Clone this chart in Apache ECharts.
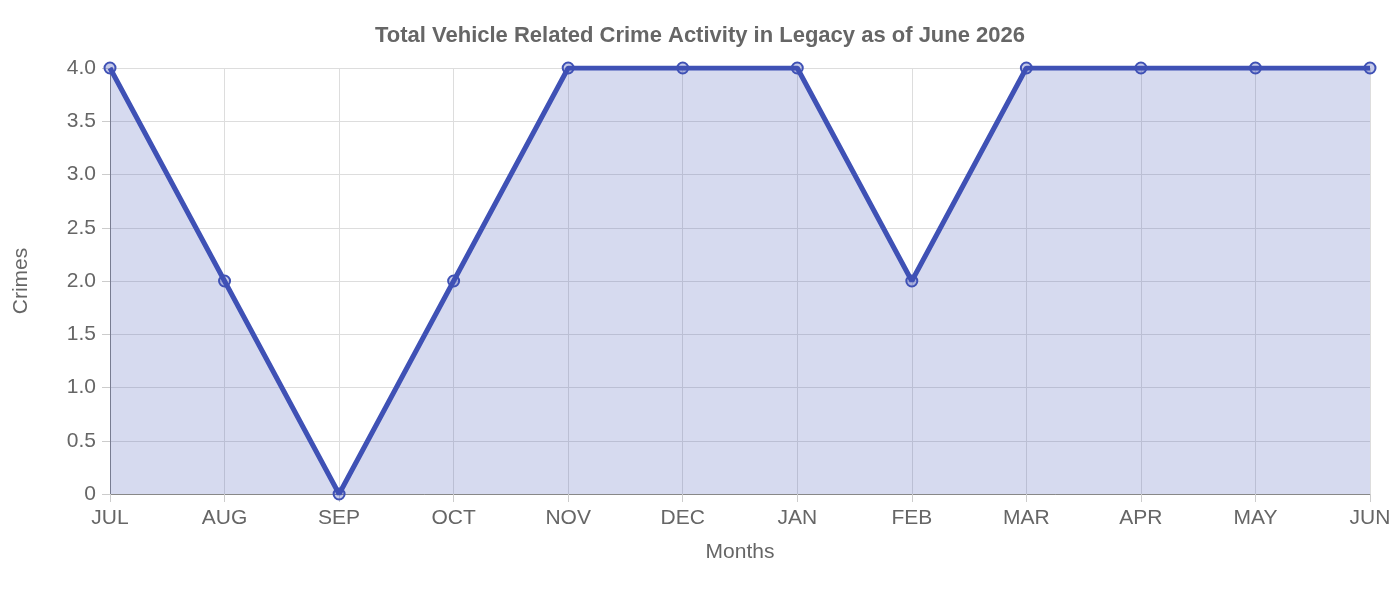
<!DOCTYPE html>
<html><head><meta charset="utf-8">
<script src="https://cdn.jsdelivr.net/npm/echarts@6/dist/echarts.min.js"></script>
<style>html,body{margin:0;padding:0;background:#fff}#c{width:1400px;height:600px}</style>
</head><body><div id="c"></div>
<script>
const months = ["JUL","AUG","SEP","OCT","NOV","DEC","JAN","FEB","MAR","APR","MAY","JUN"];
const crimes = [4,2,0,2,4,4,4,2,4,4,4,4];
const chart = echarts.init(document.getElementById('c'));
const F = "'Liberation Sans', Arial, sans-serif";
chart.setOption({
  animation:false,
  title:{text:"Total Vehicle Related Crime Activity in Legacy as of June 2026",left:'center',top:20,
    textStyle:{fontFamily:F,fontSize:22,fontWeight:'bold',color:'#666'}},
  grid:{left:110,right:30,top:68,bottom:106},
  xAxis:{type:'category',data:months,boundaryGap:false,name:'Months',nameLocation:'middle',nameGap:48,
    nameTextStyle:{fontFamily:F,fontSize:21,color:'#666'},
    axisLine:{lineStyle:{color:'#888'}},axisTick:{length:8,lineStyle:{color:'#ccc'}},
    axisLabel:{fontFamily:F,fontSize:21,color:'#666',margin:14},
    splitLine:{show:true,lineStyle:{color:'#ddd'}}},
  yAxis:{type:'value',min:0,max:4,interval:0.5,name:'Crimes',nameLocation:'middle',nameGap:78,
    nameTextStyle:{fontFamily:F,fontSize:21,color:'#666'},
    axisLine:{show:true,lineStyle:{color:'#888'}},axisTick:{show:true,length:8,lineStyle:{color:'#ccc'}},
    axisLabel:{fontFamily:F,fontSize:21,color:'#666',margin:14,formatter:v=>v===0?'0':v.toFixed(1)},
    splitLine:{lineStyle:{color:'#ddd'}}},
  series:[{type:'line',data:crimes,symbol:'circle',symbolSize:11,
    lineStyle:{color:'#3f51b5',width:5},
    itemStyle:{color:'rgba(63,81,181,0.3)',borderColor:'#3f51b5',borderWidth:2},
    areaStyle:{color:'rgba(63,81,181,0.3)'}}]
});
</script></body></html>
